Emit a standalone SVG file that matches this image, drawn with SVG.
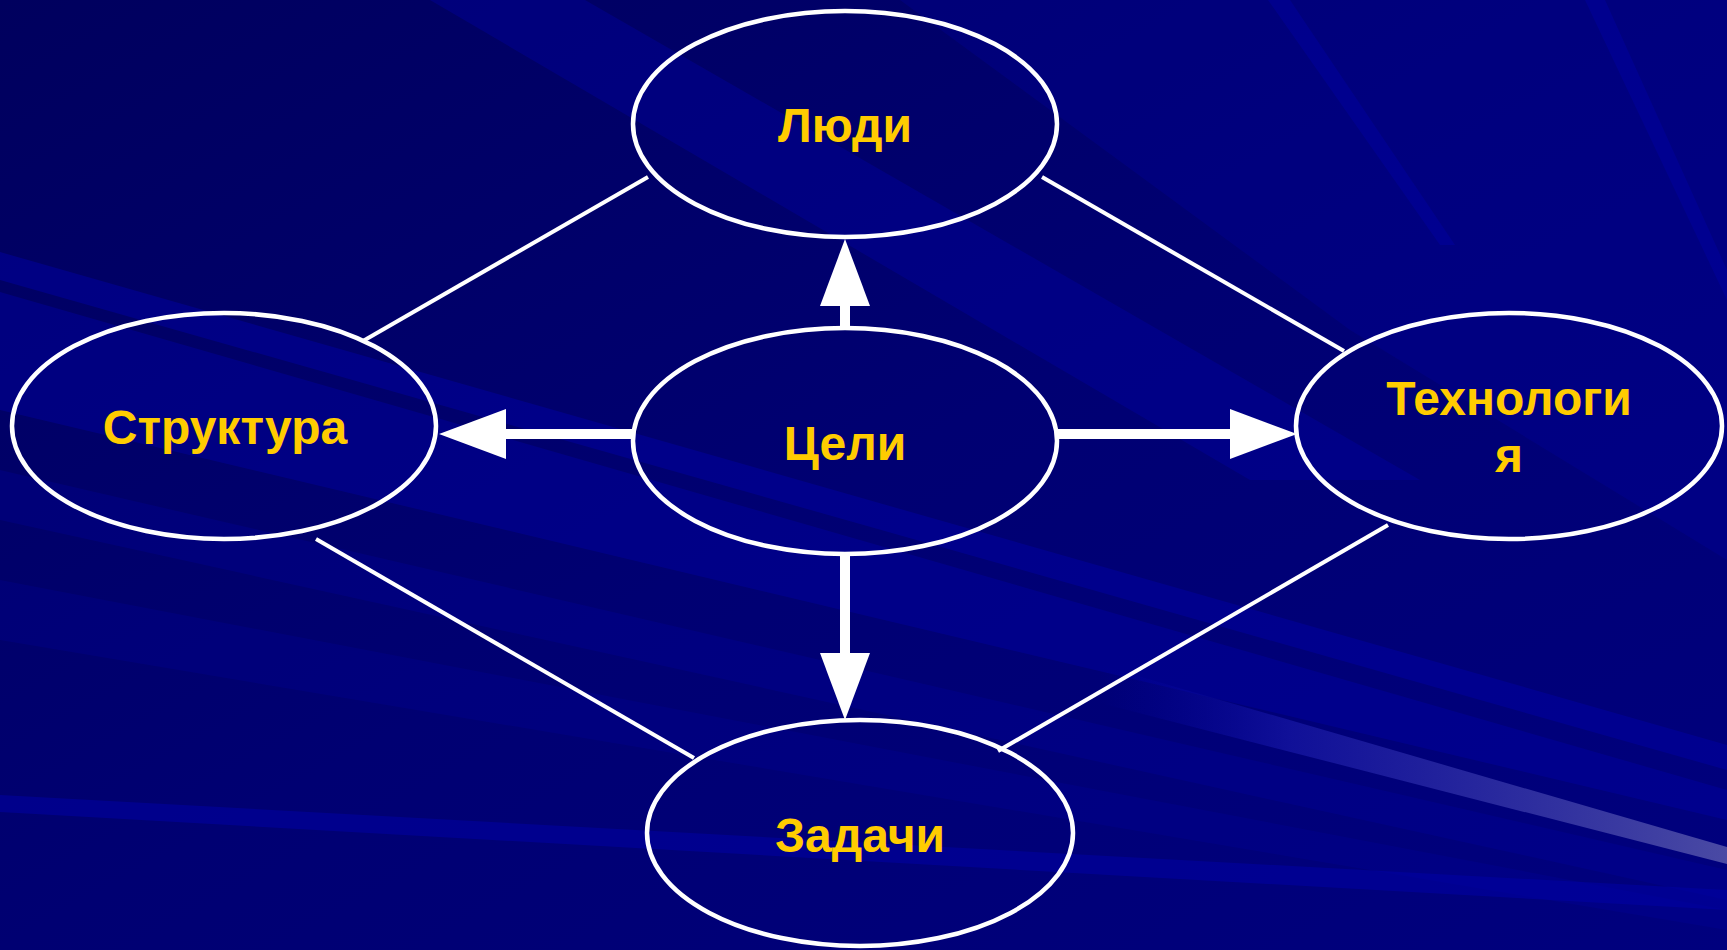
<svg xmlns="http://www.w3.org/2000/svg" width="1727" height="950" viewBox="0 0 1727 950">
  <defs>
    <style>
      .node { fill: none; stroke: #FFFFFF; stroke-width: 4.5; }
      .label { font-family: "Liberation Sans", Arial, sans-serif; font-weight: bold; font-size: 48px; fill: #FFCC00; text-anchor: middle; }
      .edge { stroke: #FFFFFF; stroke-width: 4; fill: none; }
      .arrow { stroke: #FFFFFF; stroke-width: 10; fill: none; marker-end: url(#head); }
      .ray { fill: #0000A8; }
    </style>
    <marker id="head" viewBox="0 0 67 50" markerWidth="67" markerHeight="50" refX="0" refY="25" orient="auto" markerUnits="userSpaceOnUse">
      <path d="M0,0 L67,25 L0,50 Z" fill="#FFFFFF"/>
    </marker>
    <linearGradient id="bg" x1="0" y1="0" x2="1" y2="1">
      <stop offset="0" stop-color="#00005E"/>
      <stop offset="0.5" stop-color="#000072"/>
      <stop offset="1" stop-color="#00007E"/>
    </linearGradient>
    <linearGradient id="bright" x1="1100" y1="0" x2="1727" y2="0" gradientUnits="userSpaceOnUse">
      <stop offset="0" stop-color="#0000A0" stop-opacity="0"/>
      <stop offset="0.3" stop-color="#1414A0" stop-opacity="0.8"/>
      <stop offset="1" stop-color="#4A4AA4" stop-opacity="1"/>
    </linearGradient>
  </defs>

  <g id="background">
    <rect x="0" y="0" width="1727" height="950" fill="url(#bg)"/>
    <polygon class="ray" opacity="0.35" points="430,0 585,0 1420,480 1250,480"/>
    <polygon class="ray" opacity="0.25" points="900,0 1727,0 1727,560 1350,330"/>
    <polygon class="ray" opacity="0.4" points="1268,0 1290,0 1455,245 1440,245"/>
    <polygon class="ray" opacity="0.4" points="1585,0 1605,0 1727,270 1727,300"/>
    <polygon class="ray" opacity="0.45" points="0,252 0,280 1727,770 1727,745"/>
    <polygon class="ray" opacity="0.4" points="0,292 0,410 1727,820 1727,790"/>
    <polygon class="ray" opacity="0.25" points="0,470 0,520 1727,900 1727,870"/>
    <polygon class="ray" opacity="0.2" points="0,580 0,640 1727,930 1727,910"/>
    <polygon class="ray" opacity="0.5" points="0,795 0,812 1727,910 1727,890"/>
    <polygon fill="url(#bright)" points="1100,665 1727,847 1727,864 1100,703"/>
  </g>

  <g id="connectors">
    <line class="edge" x1="648" y1="177" x2="363" y2="341"/>
    <line class="edge" x1="1042" y1="177" x2="1344" y2="351"/>
    <line class="edge" x1="316" y1="539" x2="694" y2="758"/>
    <line class="edge" x1="1388" y1="525" x2="998" y2="751"/>
    <line class="arrow" x1="845" y1="327" x2="845" y2="306" marker-end="url(#head)"/>
    <line class="arrow" x1="632" y1="434" x2="506" y2="434" marker-end="url(#head)"/>
    <line class="arrow" x1="1057" y1="434" x2="1230" y2="434" marker-end="url(#head)"/>
    <line class="arrow" x1="845" y1="554" x2="845" y2="653" marker-end="url(#head)"/>
  </g>

  <g id="node-lyudi">
    <ellipse class="node" cx="845" cy="124" rx="212" ry="113"/>
    <text class="label" x="845" y="142">Люди</text>
  </g>
  <g id="node-struktura">
    <ellipse class="node" cx="224" cy="426" rx="212" ry="113"/>
    <text class="label" x="225" y="444">Структура</text>
  </g>
  <g id="node-tseli">
    <ellipse class="node" cx="845" cy="441" rx="212" ry="113"/>
    <text class="label" x="845" y="460">Цели</text>
  </g>
  <g id="node-tekhnologiya">
    <ellipse class="node" cx="1509" cy="426" rx="213" ry="113"/>
    <text class="label" x="1509" y="415">Технологи</text>
    <text class="label" x="1509" y="472">я</text>
  </g>
  <g id="node-zadachi">
    <ellipse class="node" cx="860" cy="833" rx="213" ry="113"/>
    <text class="label" x="860" y="852">Задачи</text>
  </g>
</svg>
